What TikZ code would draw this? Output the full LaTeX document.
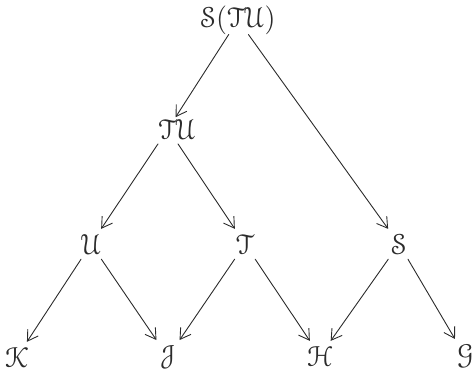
\documentclass[tikz,border=0pt]{standalone}
\usepackage{amsmath,amssymb}
\usepackage{eucal}
\usepackage{tikz}
\usetikzlibrary{arrows.meta,positioning}
\definecolor{stInk}{HTML}{2B2B2B}
\tikzset{
  st diagram/.style={x=0.5pt, y=-0.5pt, text=stInk,
    line cap=round, line join=round},
  st obj/.style={inner sep=1.5pt, font=\Large},
  st arrow/.style={-{Straight Barb[length=1.8mm,width=2.2mm]}, draw=stInk,
    line width=0.45pt, shorten >=1pt, shorten <=1pt},
  st from tu/.style={st arrow, shorten <=9pt}
}

\begin{document}
\begin{tikzpicture}[st diagram]
\useasboundingbox (0,0) rectangle (476,370);
% objects
\node[st obj] (stu) at (238,20) {$\mathcal{S}(\mathcal{T}\mathcal{U})$};
\node[st obj] (tu) at (177,129) {$\mathcal{T}\mathcal{U}$};
\node[st obj] (u) at (91,244) {$\mathcal{U}$};
\node[st obj] (t) at (245,244) {$\mathcal{T}$};
\node[st obj] (s) at (399,244) {$\mathcal{S}$};
\node[st obj] (k) at (17,357) {$\mathcal{K}$};
\node[st obj] (j) at (168,357) {$\mathcal{J}$};
\node[st obj] (h) at (320,356) {$\mathcal{H}$};
\node[st obj] (g) at (465,356) {$\mathcal{G}$};
% maps
\draw[st arrow, shorten >=7pt, shorten <=-2pt] (stu) -- ([xshift=-4.5pt]tu.center);
\draw[st arrow, shorten <=-2pt] (stu) -- (s);
\draw[st from tu] ([xshift=-4.5pt]tu.center) -- (u);
\draw[st from tu] ([xshift=-4.5pt]tu.center) -- (t);
\draw[st arrow] (u) -- (k);
\draw[st arrow] (u) -- (j);
\draw[st arrow] (t) -- (j);
\draw[st arrow] (t) -- (h);
\draw[st arrow] (s) -- (h);
\draw[st arrow] (s) -- (g);
\end{tikzpicture}
\end{document}
